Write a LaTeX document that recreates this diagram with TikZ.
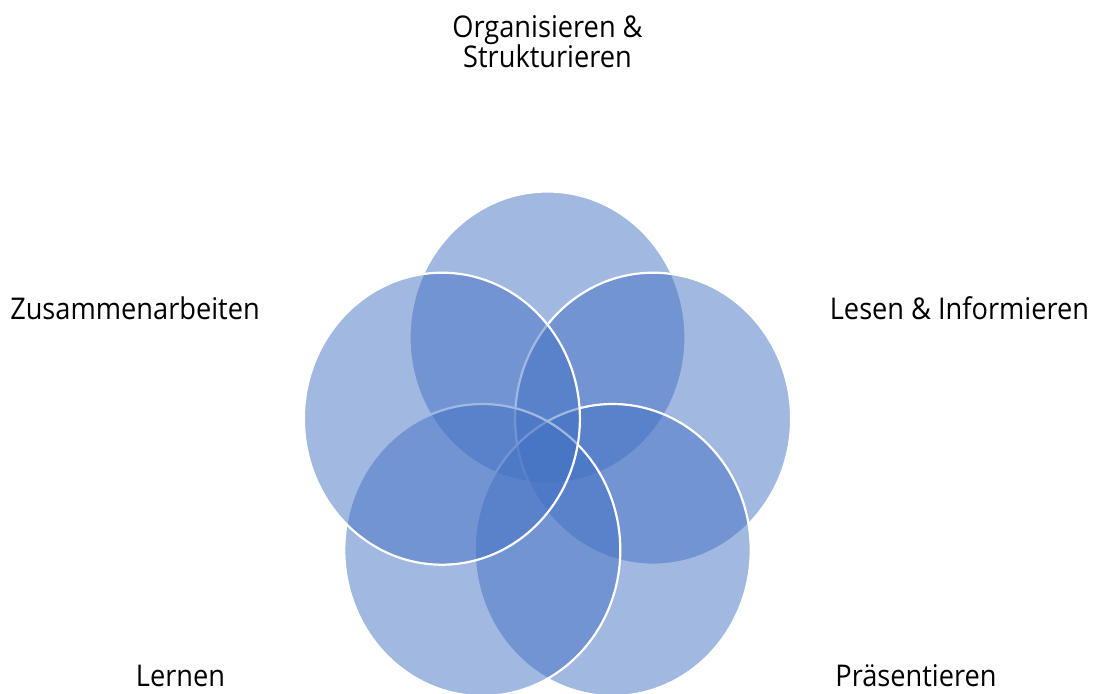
\documentclass[tikz,border=0pt]{standalone}
\usepackage{fontspec}
\setmainfont{Open Sans}
\usetikzlibrary{shapes.geometric}
\definecolor{vblue}{HTML}{4472C4}
\newcommand{\vtxt}[1]{\scalebox{1}[1.1]{#1}}
\begin{document}
\begin{tikzpicture}[x=1pt,y=-1pt,
  venn/.style={ellipse, inner sep=0pt, minimum width=276pt, minimum height=292pt,
    fill=vblue, fill opacity=0.5, draw=white, draw opacity=1, line width=2.2pt},
  lbl/.style={font=\fontsize{27.2}{30}\selectfont, align=center, inner sep=0pt, anchor=base, text=black}]
\fill[white] (0,0) rectangle (1094,693);
\useasboundingbox (0,0) rectangle (1094,693);
\node[venn] (ctop) at (547.5,337.5) {};
\node[venn] (cright) at (653.1,418.7) {};
\node[venn] (cbr) at (612.7,550) {};
\node[venn] (cbl) at (482.3,550) {};
\node[venn] (cleft) at (441.9,418.7) {};
\node[lbl] (org) at (547.5,67) {\vtxt{Organisieren \&}\\\vtxt{Strukturieren}};
\node[lbl] (zus) at (135,319) {\vtxt{Zusammenarbeiten}};
\node[lbl] (les) at (959.5,319) {\vtxt{Lesen \& Informieren}};
\node[lbl] (lern) at (180.5,686) {\vtxt{Lernen}};
\node[lbl] (pras) at (916,686) {\vtxt{Präsentieren}};
\end{tikzpicture}
\end{document}
